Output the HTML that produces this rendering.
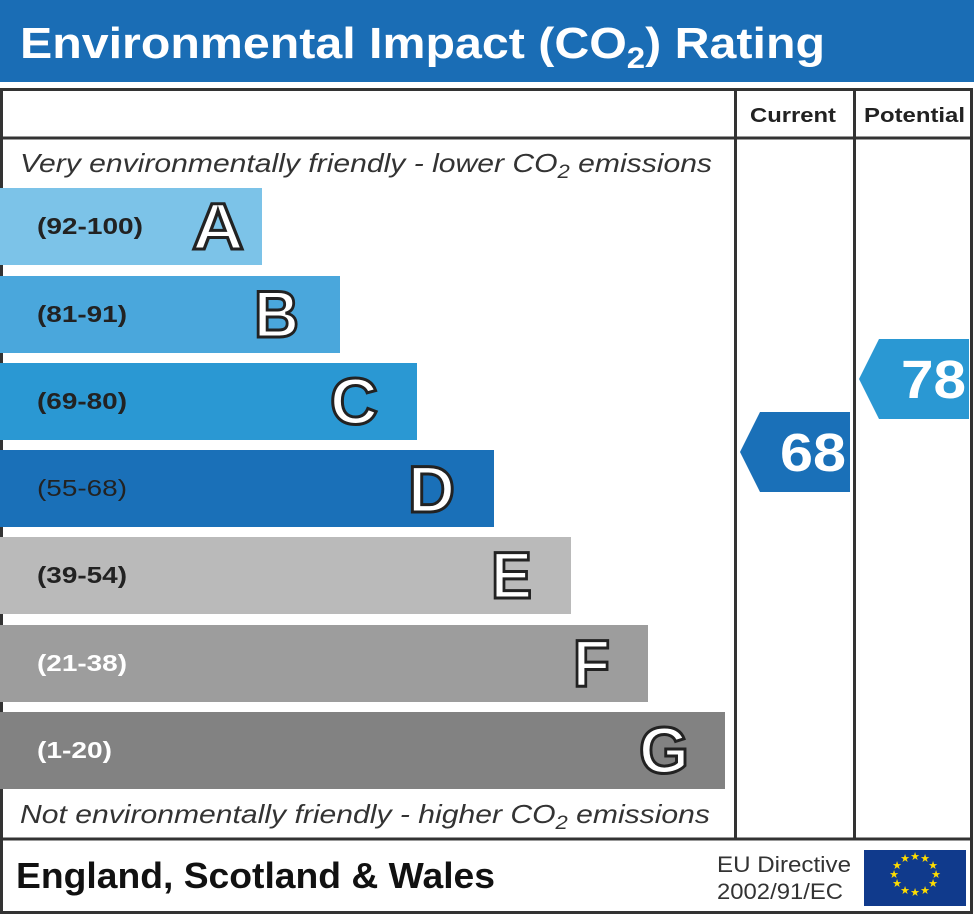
<!DOCTYPE html>
<html><head><meta charset="utf-8"><style>
html,body{margin:0;padding:0;background:#fff;}
svg{display:block;font-family:"Liberation Sans",Arial,sans-serif;}
</style></head><body>
<svg width="974" height="917" viewBox="0 0 974 917" xmlns="http://www.w3.org/2000/svg">
<rect x="0" y="0" width="974" height="82" fill="#1a6db5"/>
<text x="20" y="58" font-size="44" font-weight="bold" fill="#fff" textLength="805" lengthAdjust="spacingAndGlyphs">Environmental Impact (CO<tspan font-size="30" dy="10">2</tspan><tspan dy="-10">) Rating</tspan></text>
<g stroke="#333" stroke-width="3" fill="none">
<rect x="1.5" y="89.5" width="970" height="823"/>
<line x1="1" y1="138" x2="972" y2="138"/>
<line x1="1" y1="839" x2="972" y2="839"/>
<line x1="735.5" y1="89" x2="735.5" y2="839"/>
<line x1="854.5" y1="89" x2="854.5" y2="839"/>
</g>
<text x="750" y="122" font-size="20" font-weight="bold" fill="#222" textLength="86" lengthAdjust="spacingAndGlyphs">Current</text>
<text x="864" y="122" font-size="20" font-weight="bold" fill="#222" textLength="101" lengthAdjust="spacingAndGlyphs">Potential</text>
<text x="20" y="172" font-size="26" font-style="italic" fill="#333" textLength="692" lengthAdjust="spacingAndGlyphs">Very environmentally friendly - lower CO<tspan font-size="19" dy="6">2</tspan><tspan dy="-6"> emissions</tspan></text>
<text x="20" y="823" font-size="26" font-style="italic" fill="#333" textLength="690" lengthAdjust="spacingAndGlyphs">Not environmentally friendly - higher CO<tspan font-size="19" dy="6">2</tspan><tspan dy="-6"> emissions</tspan></text>
<g font-weight="bold">
<rect x="0" y="188" width="262" height="77" fill="#7cc3e8"/>
<text x="37" y="234" font-size="23" fill="#222" textLength="106" lengthAdjust="spacingAndGlyphs">(92-100)</text>
<text x="192" y="249" font-size="66" fill="#fff" stroke="#222" stroke-width="3" textLength="52" lengthAdjust="spacingAndGlyphs">A</text>
<rect x="0" y="276" width="340" height="77" fill="#4aa7dc"/>
<text x="37" y="322" font-size="23" fill="#222" textLength="90" lengthAdjust="spacingAndGlyphs">(81-91)</text>
<text x="254" y="337" font-size="66" fill="#fff" stroke="#222" stroke-width="3" textLength="45" lengthAdjust="spacingAndGlyphs">B</text>
<rect x="0" y="363" width="417" height="77" fill="#2a98d3"/>
<text x="37" y="409" font-size="23" fill="#222" textLength="90" lengthAdjust="spacingAndGlyphs">(69-80)</text>
<text x="330" y="424" font-size="66" fill="#fff" stroke="#222" stroke-width="3" textLength="48" lengthAdjust="spacingAndGlyphs">C</text>
<rect x="0" y="450" width="494" height="77" fill="#1a70b8"/>
<text x="37" y="496" font-size="23" font-weight="normal" fill="#222" textLength="90" lengthAdjust="spacingAndGlyphs">(55-68)</text>
<text x="408" y="512" font-size="66" fill="#fff" stroke="#222" stroke-width="3" textLength="47" lengthAdjust="spacingAndGlyphs">D</text>
<rect x="0" y="537" width="571" height="77" fill="#bababa"/>
<text x="37" y="583" font-size="23" fill="#222" textLength="90" lengthAdjust="spacingAndGlyphs">(39-54)</text>
<text x="491" y="598" font-size="66" fill="#fff" stroke="#222" stroke-width="3" textLength="41" lengthAdjust="spacingAndGlyphs">E</text>
<rect x="0" y="625" width="648" height="77" fill="#9d9d9d"/>
<text x="37" y="671" font-size="23" fill="#fff" textLength="90" lengthAdjust="spacingAndGlyphs">(21-38)</text>
<text x="573" y="686" font-size="66" fill="#fff" stroke="#222" stroke-width="3" textLength="37" lengthAdjust="spacingAndGlyphs">F</text>
<rect x="0" y="712" width="725" height="77" fill="#828282"/>
<text x="37" y="758" font-size="23" fill="#fff" textLength="75" lengthAdjust="spacingAndGlyphs">(1-20)</text>
<text x="639" y="773" font-size="66" fill="#fff" stroke="#222" stroke-width="3" textLength="50" lengthAdjust="spacingAndGlyphs">G</text>
</g>
<polygon points="740,452 760,412 850,412 850,492 760,492" fill="#1a70b8"/>
<text x="780" y="471" font-size="54" font-weight="bold" fill="#fff" textLength="66" lengthAdjust="spacingAndGlyphs">68</text>
<polygon points="859,379 879,339 969,339 969,419 879,419" fill="#2a98d3"/>
<text x="901" y="398" font-size="54" font-weight="bold" fill="#fff" textLength="65" lengthAdjust="spacingAndGlyphs">78</text>
<text x="16" y="888" font-size="36" font-weight="bold" fill="#111" textLength="479" lengthAdjust="spacingAndGlyphs">England, Scotland &amp; Wales</text>
<text x="717" y="872" font-size="22" fill="#333" textLength="134" lengthAdjust="spacingAndGlyphs">EU Directive</text>
<text x="717" y="899" font-size="22" fill="#333" textLength="126" lengthAdjust="spacingAndGlyphs">2002/91/EC</text>
<rect x="864" y="850" width="102" height="56" fill="#103a8c"/>
<g fill="#ffdd00" font-size="11" text-anchor="middle">
<text x="915" y="860">★</text><text x="925" y="862">★</text><text x="933" y="869">★</text>
<text x="936" y="878">★</text><text x="933" y="887">★</text><text x="925" y="894">★</text>
<text x="915" y="896">★</text><text x="905" y="894">★</text><text x="897" y="887">★</text>
<text x="894" y="878">★</text><text x="897" y="869">★</text><text x="905" y="862">★</text>
</g>
</svg>
</body></html>
